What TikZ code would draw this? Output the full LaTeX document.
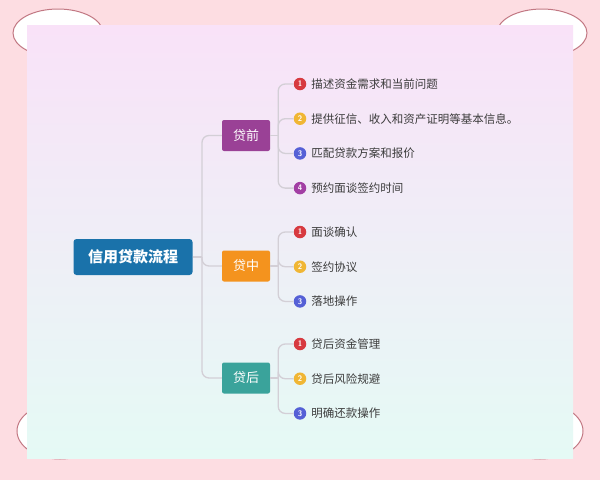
\documentclass[tikz,border=0pt]{standalone}
\usepackage{fontspec}
\newfontfamily\cjk{Noto Sans CJK SC}
\usetikzlibrary{positioning}
\definecolor{bgpink}{HTML}{FDDDE2}
\definecolor{ovalline}{HTML}{C27883}
\definecolor{paneltop}{HTML}{F9E2F8}
\definecolor{panelmid}{HTML}{F1EEF8}
\definecolor{panelbot}{HTML}{E5FAF5}
\definecolor{rootblue}{HTML}{1A72AA}
\definecolor{qianpurple}{HTML}{9A4196}
\definecolor{zhongorange}{HTML}{F4931E}
\definecolor{houteal}{HTML}{3AA39B}
\definecolor{mred}{HTML}{D73A40}
\definecolor{myellow}{HTML}{F0B634}
\definecolor{mblue}{HTML}{5560D6}
\definecolor{mpurple}{HTML}{A23FA4}
\definecolor{linkgray}{HTML}{D3CFD6}
\definecolor{itemtext}{HTML}{3C3C3C}
\tikzstyle{link} = [draw=linkgray, line width=1.3pt]

\begin{document}
\begin{tikzpicture}[x=1pt, y=1pt,
		rootbox/.style={
			fill=rootblue,
			rounded corners=3pt,
			minimum width=119pt,
			minimum height=36pt,
			text=white,
			font=\cjk\bfseries\fontsize{15}{18}\selectfont},
		branch/.style={
			rounded corners=2pt,
			minimum width=48pt,
			minimum height=31pt,
			text=white,
			font=\cjk\fontsize{13}{15}\selectfont},
		marker/.style={
			circle,
			inner sep=0pt,
			minimum size=12.5pt,
			text=white,
			font=\sffamily\bfseries\fontsize{8}{8}\selectfont},
		item/.style={
			inner sep=0pt,
			text=itemtext,
			font=\cjk\fontsize{11.5}{13}\selectfont},
		node distance=34.7pt]
		\useasboundingbox (0,0) rectangle (600,-480);

		% page and card
		\fill [bgpink] (0,0) rectangle (600,-480);
		\foreach \cx/\cy/\rx/\ry in {58/-33/45/24, 542/-33/45/24, 60/-431/43/28, 540/-431/43/28}
			\draw [ovalline, line width=1pt, fill=white] (\cx,\cy) ellipse [x radius=\rx, y radius=\ry];
		\shade [top color=paneltop, middle color=panelmid, bottom color=panelbot] (27,-25) rectangle (573,-458);

		\node (root) [rootbox] at (133,-257) {信用贷款流程};
		\node (qian) [branch, fill=qianpurple] at (246,-135.5) {贷前};
		\node (zhong) [branch, fill=zhongorange] at (246,-266) {贷中};
		\node (hou) [branch, fill=houteal] at (246,-378) {贷后};

		% 贷前
		\node (qian1) [marker, fill=mred] at (300,-84) {1};
		\node (qian2) [below of=qian1, marker, fill=myellow] {2};
		\node (qian3) [below of=qian2, marker, fill=mblue] {3};
		\node (qian4) [below of=qian3, marker, fill=mpurple] {4};
		\node (qian1t) [right=4.8pt of qian1, item] {描述资金需求和当前问题};
		\node (qian2t) [right=4.8pt of qian2, item] {提供征信、收入和资产证明等基本信息。};
		\node (qian3t) [right=4.8pt of qian3, item] {匹配贷款方案和报价};
		\node (qian4t) [right=4.8pt of qian4, item] {预约面谈签约时间};

		% 贷中
		\node (zhong1) [marker, fill=mred] at (300,-232) {1};
		\node (zhong2) [below of=zhong1, marker, fill=myellow] {2};
		\node (zhong3) [below of=zhong2, marker, fill=mblue] {3};
		\node (zhong1t) [right=4.8pt of zhong1, item] {面谈确认};
		\node (zhong2t) [right=4.8pt of zhong2, item] {签约协议};
		\node (zhong3t) [right=4.8pt of zhong3, item] {落地操作};

		% 贷后
		\node (hou1) [marker, fill=mred] at (300,-344) {1};
		\node (hou2) [below of=hou1, marker, fill=myellow] {2};
		\node (hou3) [below of=hou2, marker, fill=mblue] {3};
		\node (hou1t) [right=4.8pt of hou1, item] {贷后资金管理};
		\node (hou2t) [right=4.8pt of hou2, item] {贷后风险规避};
		\node (hou3t) [right=4.8pt of hou3, item] {明确还款操作};

		% connectors
		\coordinate (trunk) at (202,-257);
		\draw [link] (root.east) -- (trunk);
		\foreach \b in {qian, zhong, hou}
			\draw [link, rounded corners=7pt] (trunk) |- (\b.west);

		\coordinate [right=8pt of qian] (qianfork);
		\coordinate [right=8pt of zhong] (zhongfork);
		\coordinate [right=8pt of hou] (houfork);
		\foreach \b/\n in {qian/4, zhong/3, hou/3} {
			\draw [link] (\b.east) -- (\b fork);
			\foreach \i in {1,...,\n}
				\draw [link, rounded corners=7pt] (\b fork) |- (\b\i.west);
		}

	\end{tikzpicture}
\end{document}
